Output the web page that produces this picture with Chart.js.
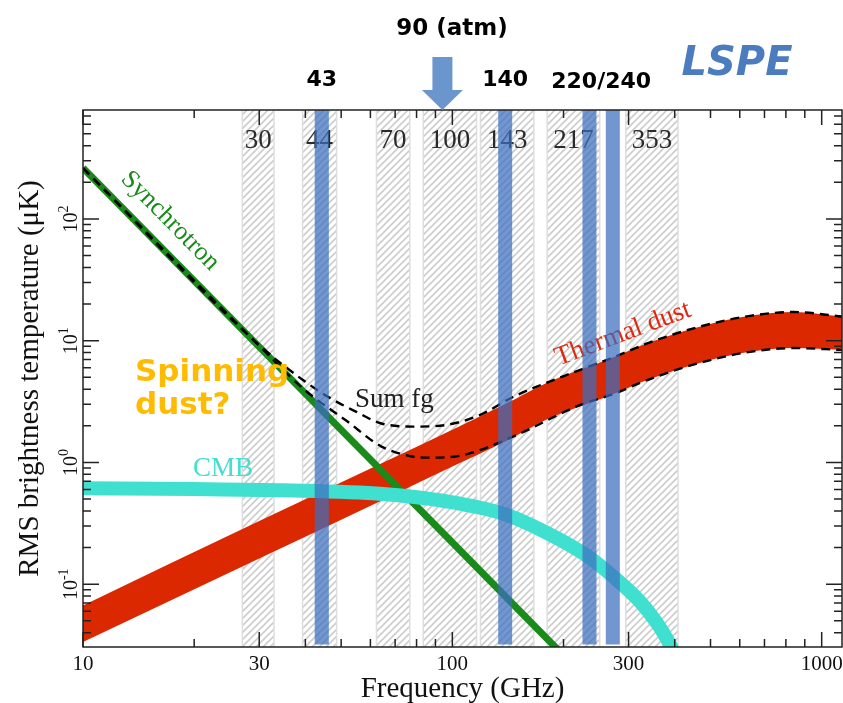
<!DOCTYPE html>
<html>
<head>
<meta charset="utf-8">
<script src="https://cdn.jsdelivr.net/npm/chart.js@4.4.0/dist/chart.umd.min.js"></script>
<style>
    body { margin: 0; background: #fff; }
    #wrap { width: 843px; height: 703px; }
</style>
</head>
<body>
<div id="wrap"><canvas id="chart" width="843" height="703"></canvas></div>
<script>
// Valeurs (GHz, µK RMS)
const xTicks = [10, 30, 100, 300, 1000];
const yExps = [-1, 0, 1, 2];

const synchFreq = [10, 30, 100, 200];
const synchT = [262, 8.9, 0.22, 0.026];

const cmbFreq = [10, 20, 35, 65, 96, 139, 180, 231, 273, 322, 358, 380, 400];
const cmbT = [0.614, 0.605, 0.59, 0.55, 0.48, 0.375, 0.265, 0.172, 0.115, 0.072, 0.048, 0.036, 0.027];

const dustFreq = [10, 30, 65, 100, 140, 180, 270, 340, 470, 640, 840, 1135];
const dustHigh = [0.067, 0.33, 1.0, 1.86, 3.05, 4.5, 7.2, 9.6, 13.1, 16.0, 17.2, 15.8];
const dustLow = [0.0336, 0.163, 0.495, 0.925, 1.5, 2.25, 3.6, 4.8, 6.6, 8.1, 8.7, 8.4];

const sumHiFreq = [10, 30, 40, 46.6, 55, 63.6, 78, 96, 119, 146, 222, 270, 340, 470, 640, 840, 1135];
const sumHi = [262, 9.2, 4.6, 3.39, 2.6, 2.11, 1.97, 2.03, 2.46, 3.45, 5.77, 7.2, 9.6, 13.1, 16.0, 17.2, 15.8];
const sumLoFreq = [10, 30, 40, 51.7, 64.3, 78, 87, 107, 146, 222, 270, 340, 470, 640, 840, 1135];
const sumLo = [262, 9.1, 3.9, 2.2, 1.35, 1.12, 1.095, 1.15, 1.63, 2.97, 3.6, 4.8, 6.6, 8.1, 8.7, 8.4];

// Bandes Planck (hachurées)
const planckLabels = ['30', '44', '70', '100', '143', '217', '353'];
const planckLo = [27.0, 39.3, 62.3, 83.4, 119.2, 180.6, 294.9];
const planckHi = [32.9, 48.6, 76.7, 116.3, 166.2, 250.7, 408.3];

// Bandes LSPE (barres bleues)
const lspeLo = [42.4, 133.1, 225.1, 260.3];
const lspeHi = [46.3, 145.2, 245.6, 284.1];
const lspeLabels = ['43', '140', '220/240'];
const lspeGroups = [[0], [1], [2, 3]];
const atmFreq = 94;

function pts(fs, ts) {
    return fs.map(function(f, i) { return { x: f, y: ts[i] }; });
}

const SERIF = '"Liberation Serif", "Times New Roman", serif';
const SANS = '"DejaVu Sans", Verdana, sans-serif';

function hatchPattern(ctx) {
    const c = document.createElement('canvas');
    c.width = 7; c.height = 7;
    const g = c.getContext('2d');
    g.strokeStyle = '#cdcdcd';
    g.lineWidth = 1.6;
    g.beginPath();
    g.moveTo(0, 7); g.lineTo(7, 0);
    g.moveTo(-1, 1); g.lineTo(1, -1);
    g.moveTo(6, 8); g.lineTo(8, 6);
    g.stroke();
    return ctx.createPattern(c, 'repeat');
}

// Bandes Planck sous les courbes
const bandsPlugin = {
    id: 'bands',
    beforeDatasetsDraw: function(chart) {
        const ctx = chart.ctx, a = chart.chartArea, xs = chart.scales.x;
        ctx.save();
        ctx.beginPath();
        ctx.rect(a.left, a.top, a.right - a.left, a.bottom - a.top);
        ctx.clip();
        const pat = hatchPattern(ctx);
        for (let i = 0; i < planckLo.length; i++) {
            const x0 = xs.getPixelForValue(planckLo[i]);
            const x1 = xs.getPixelForValue(planckHi[i]);
            ctx.fillStyle = pat;
            ctx.fillRect(x0, a.top, x1 - x0, a.bottom - a.top);
            ctx.strokeStyle = '#dedede';
            ctx.lineWidth = 1.5;
            ctx.strokeRect(x0, a.top - 2, x1 - x0, a.bottom - a.top + 4);
        }
        ctx.fillStyle = '#2a2a2a';
        ctx.font = '27px ' + SERIF;
        ctx.textAlign = 'center';
        ctx.textBaseline = 'alphabetic';
        for (let i = 0; i < planckLo.length; i++) {
            const cx = (xs.getPixelForValue(planckLo[i]) + xs.getPixelForValue(planckHi[i])) / 2;
            ctx.fillText(planckLabels[i], cx, 148);
        }
        ctx.restore();
    }
};

function rotText(ctx, txt, x, y, ang) {
    ctx.save();
    ctx.translate(x, y);
    ctx.rotate(ang * Math.PI / 180);
    ctx.textAlign = 'center';
    ctx.textBaseline = 'middle';
    ctx.fillText(txt, 0, 0);
    ctx.restore();
}

// Textes, barres LSPE, axes
const overlayPlugin = {
    id: 'overlay',
    afterDatasetsDraw: function(chart) {
        const ctx = chart.ctx, a = chart.chartArea;
        const xs = chart.scales.x, ys = chart.scales.y;
        ctx.save();

        // étiquettes des courbes
        ctx.font = '26px ' + SERIF;
        ctx.fillStyle = '#1a8a1a';
        rotText(ctx, 'Synchrotron', 170, 221, 45.4);
        ctx.font = '27px ' + SERIF;
        ctx.fillStyle = '#dc2a10';
        rotText(ctx, 'Thermal dust', 623, 334, -20.5);
        ctx.textAlign = 'left';
        ctx.textBaseline = 'alphabetic';
        ctx.fillStyle = '#40e0d0';
        ctx.fillText('CMB', 193, 476);
        ctx.fillStyle = '#222';
        ctx.fillText('Sum fg', 355, 407);
        ctx.font = 'bold 31px ' + SANS;
        ctx.fillStyle = '#ffbb00';
        ctx.fillText('Spinning', 135, 381);
        ctx.fillText('dust?', 135, 414);

        // barres LSPE
        ctx.fillStyle = 'rgba(60, 110, 190, 0.72)';
        const yb = ys.getPixelForValue(0.032);
        for (let i = 0; i < lspeLo.length; i++) {
            const x0 = xs.getPixelForValue(lspeLo[i]);
            const x1 = xs.getPixelForValue(lspeHi[i]);
            ctx.fillRect(x0, a.top, x1 - x0, yb - a.top);
        }

        // cadre + graduations
        ctx.strokeStyle = '#222';
        ctx.lineWidth = 1.5;
        ctx.strokeRect(a.left, a.top, a.right - a.left, a.bottom - a.top);
        ctx.beginPath();
        [10, 100, 1000].forEach(function(d) {
            for (let k = 1; k < 10; k++) {
                const v = k * d;
                if (v < 10 || v > xs.max) continue;
                const px = xs.getPixelForValue(v);
                const len = xTicks.indexOf(v) >= 0 ? 15 : 8;
                ctx.moveTo(px, a.bottom); ctx.lineTo(px, a.bottom - len);
                ctx.moveTo(px, a.top); ctx.lineTo(px, a.top + len);
            }
        });
        [0.01, 0.1, 1, 10, 100].forEach(function(d) {
            for (let k = 1; k < 10; k++) {
                const v = k * d;
                if (v < ys.min || v > ys.max) continue;
                const py = ys.getPixelForValue(v);
                const len = k === 1 ? 16 : 8;
                ctx.moveTo(a.left, py); ctx.lineTo(a.left + len, py);
                ctx.moveTo(a.right, py); ctx.lineTo(a.right - len, py);
            }
        });
        ctx.stroke();

        // libellés des axes
        ctx.fillStyle = '#111';
        ctx.font = '21px ' + SERIF;
        ctx.textAlign = 'center';
        xTicks.forEach(function(v) {
            ctx.fillText(String(v), xs.getPixelForValue(v), 670);
        });
        yExps.forEach(function(e) {
            const py = ys.getPixelForValue(Math.pow(10, e));
            ctx.save();
            ctx.translate(77, py);
            ctx.rotate(-Math.PI / 2);
            ctx.textAlign = 'left';
            ctx.font = '20px ' + SERIF;
            const w1 = ctx.measureText('10').width;
            ctx.font = '14px ' + SERIF;
            const w2 = ctx.measureText(String(e)).width;
            const s = -(w1 + w2) / 2;
            ctx.font = '20px ' + SERIF;
            ctx.fillText('10', s, 0);
            ctx.font = '14px ' + SERIF;
            ctx.fillText(String(e), s + w1, -9);
            ctx.restore();
        });
        ctx.font = '29px ' + SERIF;
        ctx.textAlign = 'center';
        ctx.fillText('Frequency (GHz)', (a.left + a.right) / 2, 697);
        ctx.save();
        ctx.translate(38, (a.top + a.bottom) / 2);
        ctx.rotate(-Math.PI / 2);
        ctx.fillText('RMS brightness temperature (\u03bcK)', 0, 0);
        ctx.restore();

        // annotations au-dessus du graphique
        ctx.fillStyle = '#000';
        ctx.font = 'bold 23px ' + SANS;
        ctx.fillText('90 (atm)', 452, 35);
        ctx.font = 'bold 22px ' + SANS;
        const lblBase = [86, 86, 88];
        lspeGroups.forEach(function(g, i) {
            const x0 = xs.getPixelForValue(lspeLo[g[0]]);
            const x1 = xs.getPixelForValue(lspeHi[g[g.length - 1]]);
            ctx.fillText(lspeLabels[i], (x0 + x1) / 2, lblBase[i]);
        });
        const cx = xs.getPixelForValue(atmFreq);
        ctx.fillStyle = '#6a96cd';
        ctx.fillRect(cx - 10, 57, 20, 34);
        ctx.beginPath();
        ctx.moveTo(cx - 20.5, 90);
        ctx.lineTo(cx + 20.5, 90);
        ctx.lineTo(cx, a.top);
        ctx.closePath();
        ctx.fill();
        ctx.fillStyle = '#4b7dbe';
        ctx.font = 'italic bold 40px ' + SANS;
        ctx.fillText('LSPE', 737, 75);

        ctx.restore();
    }
};

const ctx = document.getElementById('chart').getContext('2d');
new Chart(ctx, {
    type: 'line',
    data: {
        datasets: [{
            label: 'Sum fg (haut)',
            data: pts(sumHiFreq, sumHi),
            borderColor: '#000',
            borderWidth: 2.4,
            borderDash: [9, 6],
            cubicInterpolationMode: 'monotone',
            fill: false,
            clip: 0,
            order: 1
        }, {
            label: 'Sum fg (bas)',
            data: pts(sumLoFreq, sumLo),
            borderColor: '#000',
            borderWidth: 2.4,
            borderDash: [9, 6],
            cubicInterpolationMode: 'monotone',
            fill: false,
            clip: 0,
            order: 1
        }, {
            label: 'CMB',
            data: pts(cmbFreq, cmbT),
            borderColor: '#40e0d0',
            borderWidth: 14,
            cubicInterpolationMode: 'monotone',
            fill: false,
            clip: 0,
            order: 2
        }, {
            label: 'Synchrotron',
            data: pts(synchFreq, synchT),
            borderColor: '#1a8a1a',
            borderWidth: 7,
            fill: false,
            clip: 0,
            order: 3
        }, {
            label: 'Thermal dust',
            data: pts(dustFreq, dustHigh),
            borderColor: 'transparent',
            backgroundColor: '#dc2800',
            cubicInterpolationMode: 'monotone',
            fill: '+1',
            clip: 0,
            order: 4
        }, {
            label: 'Thermal dust (bas)',
            data: pts(dustFreq, dustLow),
            borderColor: 'transparent',
            cubicInterpolationMode: 'monotone',
            fill: false,
            clip: 0,
            order: 4
        }]
    },
    options: {
        responsive: false,
        animation: false,
        devicePixelRatio: 1,
        layout: { padding: { left: 83, right: 1, top: 110, bottom: 56 } },
        elements: { point: { radius: 0 } },
        plugins: {
            legend: { display: false },
            tooltip: { enabled: false }
        },
        scales: {
            x: { type: 'logarithmic', min: 10, max: 1135, display: false },
            y: { type: 'logarithmic', min: 0.0305, max: 785, display: false }
        }
    },
    plugins: [bandsPlugin, overlayPlugin]
});
</script>
</body>
</html>
